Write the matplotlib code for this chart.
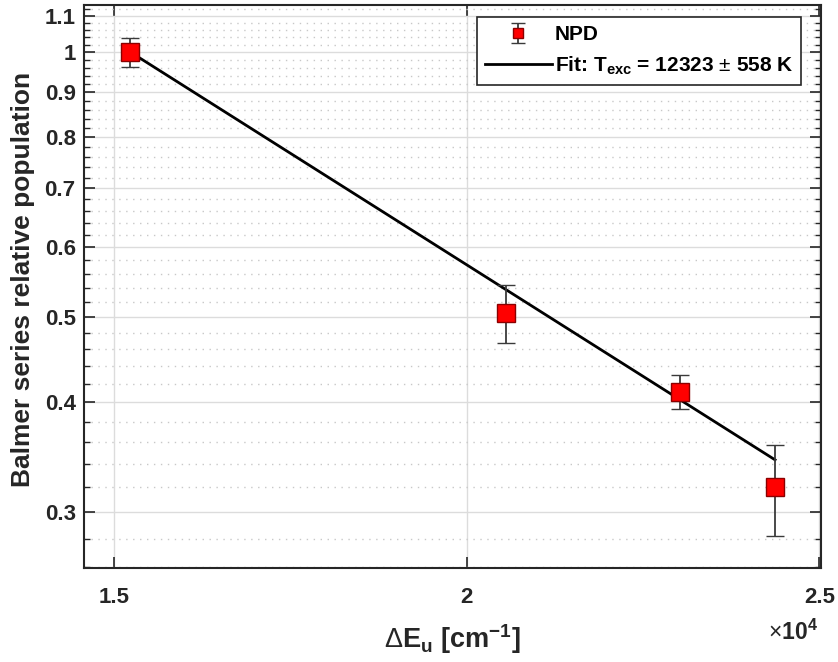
import matplotlib
matplotlib.use("Agg")
import matplotlib.pyplot as plt
from matplotlib.ticker import FixedLocator, FuncFormatter, NullFormatter
from matplotlib.legend_handler import HandlerErrorbar
import numpy as np

plt.rcParams['font.family'] = ['Liberation Sans', 'DejaVu Sans']
plt.rcParams['font.weight'] = 'bold'
plt.rcParams['axes.labelweight'] = 'bold'
plt.rcParams['mathtext.fontset'] = 'custom'
plt.rcParams['mathtext.rm'] = 'Liberation Sans:bold'
plt.rcParams['mathtext.bf'] = 'Liberation Sans:bold'
plt.rcParams['mathtext.it'] = 'Liberation Sans:bold'
plt.rcParams['mathtext.sf'] = 'Liberation Sans:regular'
plt.rcParams['mathtext.default'] = 'bf'

# Data
energy = [15233, 20565, 23032, 24373]          # Delta E_u [cm^-1]
population = [1.00, 0.505, 0.411, 0.320]
pop_err = [0.038, 0.038, 0.018, 0.038]
fit_x = [15233, 24373]
fit_y = [1.00, 0.344]
fit_label = r'Fit: T$_{exc}$ = 12323 $\mathsf{\pm}$ 558 K'
data_label = 'NPD'

y_major = [0.3, 0.4, 0.5, 0.6, 0.7, 0.8, 0.9, 1.0, 1.1]
y_major_labels = ['0.3', '0.4', '0.5', '0.6', '0.7', '0.8', '0.9', '1', '1.1']
y_minor = [0.26, 0.28, 0.32, 0.34, 0.36, 0.38, 0.42, 0.44, 0.46, 0.48,
           0.52, 0.54, 0.56, 0.58, 0.62, 0.64, 0.66, 0.68, 0.72, 0.74, 0.76, 0.78,
           0.82, 0.84, 0.86, 0.88, 0.92, 0.94, 0.96, 0.98, 1.02, 1.04, 1.06, 1.08, 1.12]
x_major = [15000, 20000, 25000]
x_major_labels = ['1.5', '2', '2.5']

axc = '#262626'
fig = plt.figure(figsize=(8.38, 6.62), dpi=100)
ax = fig.add_axes([0.1002, 0.142, 0.8800, 0.8504])
ax.set_yscale('log')

ax.plot(fit_x, fit_y, color='black', lw=2.0, label=fit_label, zorder=3)
eb = ax.errorbar(energy, population, yerr=pop_err, fmt='s', ms=13,
                 mfc='#ff0000', mec='#8b0000', mew=1.0,
                 ecolor='#3a3a3a', elinewidth=1.3, capsize=6.5, capthick=1.3,
                 label=data_label, zorder=4)

ax.set_xlim(14575, 25030)
ax.set_ylim(0.2592, 1.131)

ax.yaxis.set_major_locator(FixedLocator(y_major))
ax.yaxis.set_major_formatter(FuncFormatter(lambda v, p: y_major_labels[y_major.index(min(y_major, key=lambda t: abs(t - v)))]))
ax.yaxis.set_minor_locator(FixedLocator(y_minor))
ax.yaxis.set_minor_formatter(NullFormatter())
ax.xaxis.set_major_locator(FixedLocator(x_major))
ax.xaxis.set_major_formatter(FuncFormatter(lambda v, p: x_major_labels[x_major.index(min(x_major, key=lambda t: abs(t - v)))]))
ax.xaxis.set_minor_locator(FixedLocator([]))

ax.grid(which='major', color='#dcdcdc', lw=1.0, ls='-')
ax.grid(which='minor', axis='y', color='#c8c8c8', lw=1.0, ls=(0, (1, 4)))
ax.set_axisbelow(True)

ax.tick_params(which='both', direction='in', top=True, right=True, colors=axc,
               labelsize=16, labelcolor=axc)
ax.tick_params(which='major', length=8, width=1.2)
ax.tick_params(which='minor', length=4, width=1.0)
ax.tick_params(axis='x', pad=14)
ax.tick_params(axis='y', pad=6)
for s in ax.spines.values():
    s.set_color(axc)
    s.set_linewidth(1.5)

ax.set_xlabel(r'$\mathsf{\Delta}$E$_u$ [cm$^{-1}$]', fontsize=19.5, color=axc, labelpad=10)
ax.set_ylabel('Balmer series relative population', fontsize=19, color=axc)
ax.yaxis.set_label_coords(-0.066, 0.512)
fig.text(0.9165, 0.034, r'$\mathsf{\times}$10$^4$', fontsize=16.5, color=axc)


def _leg_update(legend_handle, orig_handle):
    legend_handle.update_from(orig_handle)
    if hasattr(legend_handle, 'get_marker'):
        m = legend_handle.get_marker()
        if m == 's':
            legend_handle.set_markersize(7)
        elif m == '_':
            legend_handle.set_markersize(10)


handles, labels = ax.get_legend_handles_labels()
order = [labels.index(data_label), labels.index(fit_label)]
leg = ax.legend([handles[i] for i in order], [labels[i] for i in order],
                loc='upper right', bbox_to_anchor=(0.973, 0.9787), borderaxespad=0,
                fontsize=15, frameon=True, fancybox=False, edgecolor=axc, framealpha=1,
                handlelength=3.2, handletextpad=0.15, borderpad=0.4, labelspacing=0.5,
                handler_map={type(eb): HandlerErrorbar(xerr_size=0.5, yerr_size=0.5,
                                                       numpoints=1, update_func=_leg_update)})
leg.get_frame().set_linewidth(1.2)
for t in leg.get_texts():
    t.set_color('black')

fig.savefig('out.png', dpi=100)
